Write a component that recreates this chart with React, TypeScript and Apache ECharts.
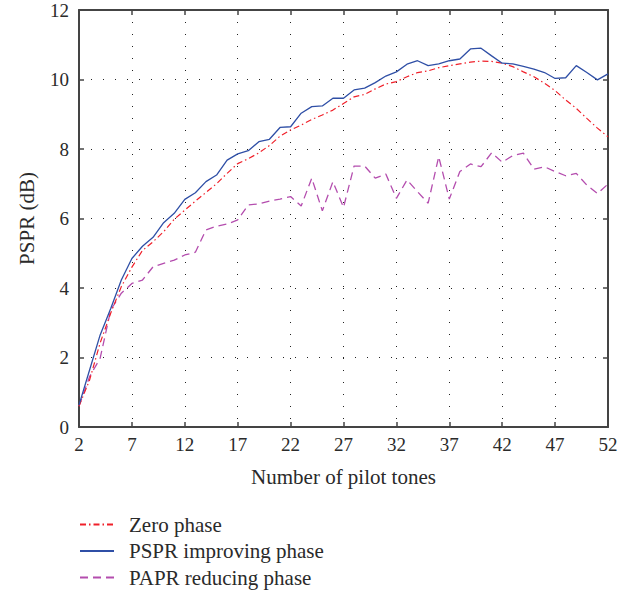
import React, { useEffect, useRef } from "react";
import * as echarts from "echarts";

const pilotTones: number[] = Array.from({ length: 51 }, (_, i) => i + 2);

const zeroPhase: number[] = [
  0.6, 1.35, 2.42, 3.28, 4.04, 4.6, 5.08, 5.33, 5.62, 5.98,
  6.24, 6.5, 6.75, 7.0, 7.3, 7.58, 7.72, 7.89, 8.1, 8.37,
  8.55, 8.69, 8.85, 8.98, 9.12, 9.31, 9.5, 9.57, 9.73, 9.87,
  9.94, 10.08, 10.2, 10.25, 10.34, 10.4, 10.45, 10.5, 10.53, 10.52,
  10.47, 10.37, 10.22, 10.08, 9.89, 9.68, 9.41, 9.17, 8.88, 8.6,
  8.35,
];

const psprImproving: number[] = [
  0.63, 1.64, 2.65, 3.41, 4.23, 4.85, 5.2, 5.46, 5.88, 6.15,
  6.55, 6.74, 7.06, 7.25, 7.68, 7.86, 7.95, 8.21, 8.28, 8.62,
  8.64, 9.03, 9.22, 9.24, 9.46, 9.46, 9.7, 9.75, 9.91, 10.1,
  10.22, 10.44, 10.54, 10.4, 10.45, 10.54, 10.59, 10.88, 10.9, 10.68,
  10.47, 10.45, 10.38, 10.3, 10.2, 10.03, 10.05, 10.4, 10.2, 9.99,
  10.16,
];

const paprReducing: number[] = [
  0.6, 1.45, 1.98, 3.37, 3.85, 4.13, 4.23, 4.61, 4.71, 4.8,
  4.95, 5.03, 5.67, 5.78, 5.84, 5.96, 6.39, 6.42, 6.5, 6.56,
  6.63, 6.36, 7.16, 6.22, 7.06, 6.32, 7.51, 7.51, 7.16, 7.28,
  6.58, 7.11, 6.77, 6.44, 7.78, 6.56, 7.35, 7.57, 7.49, 7.89,
  7.62, 7.81, 7.88, 7.42, 7.49, 7.35, 7.23, 7.3, 6.96, 6.72,
  6.99,
];

const seriesNames = ["Zero phase", "PSPR improving phase", "PAPR reducing phase"];
const xAxisTitle = "Number of pilot tones";
const yAxisTitle = "PSPR (dB)";

const FONT = "Liberation Serif";
const TEXT = "#2a2a2a";
const FRAME = "#444";

export default function App() {
  const ref = useRef<HTMLDivElement>(null);

  useEffect(() => {
    if (!ref.current) return;
    const chart = echarts.init(ref.current, undefined, { renderer: "svg" });
    const pair = (vals: number[]) => pilotTones.map((x, i) => [x, vals[i]]);
    const gridLine = {
      show: true,
      lineStyle: { color: "#222", width: 1, type: [1, 11] as any },
    };
    const frameLine = { show: true, onZero: false, lineStyle: { color: FRAME, width: 2 } };
    const tick = { show: true, inside: true, length: 5, lineStyle: { color: FRAME, width: 1.5 } };
    chart.setOption({
      animation: false,
      textStyle: { fontFamily: FONT },
      grid: { left: 79, right: 27, top: 10, bottom: 167, containLabel: false },
      legend: {
        orient: "vertical",
        left: 79,
        top: 514,
        padding: 0,
        itemWidth: 34,
        itemHeight: 14,
        itemGap: 5.5,
        itemStyle: { opacity: 0 },
        textStyle: {
          fontFamily: FONT,
          fontSize: 21,
          lineHeight: 21,
          color: TEXT,
          padding: [0, 0, 0, 10],
        },
        data: seriesNames,
      },
      xAxis: [
        {
          type: "value",
          min: 2,
          max: 52,
          interval: 5,
          name: xAxisTitle,
          nameLocation: "middle",
          nameGap: 39,
          nameTextStyle: { fontFamily: FONT, fontSize: 21, color: TEXT },
          axisLine: frameLine,
          axisTick: tick,
          axisLabel: { fontFamily: FONT, fontSize: 19, color: TEXT, margin: 8 },
          splitLine: gridLine,
        },
        {
          type: "value",
          position: "top",
          min: 2,
          max: 52,
          interval: 5,
          axisLine: frameLine,
          axisTick: tick,
          axisLabel: { show: false },
          splitLine: { show: false },
        },
      ],
      yAxis: [
        {
          type: "value",
          min: 0,
          max: 12,
          interval: 2,
          name: yAxisTitle,
          nameLocation: "middle",
          nameGap: 42,
          nameTextStyle: { fontFamily: FONT, fontSize: 21, color: TEXT },
          axisLine: frameLine,
          axisTick: tick,
          axisLabel: { fontFamily: FONT, fontSize: 19, color: TEXT, margin: 10 },
          splitLine: gridLine,
        },
        {
          type: "value",
          position: "right",
          min: 0,
          max: 12,
          interval: 2,
          axisLine: frameLine,
          axisTick: tick,
          axisLabel: { show: false },
          splitLine: { show: false },
        },
      ],
      series: [
        {
          name: seriesNames[0],
          type: "line",
          data: pair(zeroPhase),
          symbol: "none",
          lineStyle: { color: "#f0202a", width: 1.2, type: [6, 3, 1.5, 3] },
          itemStyle: { color: "#f0202a" },
          z: 3,
        },
        {
          name: seriesNames[1],
          type: "line",
          data: pair(psprImproving),
          symbol: "none",
          lineStyle: { color: "#2f4fa6", width: 1.3, type: "solid" },
          itemStyle: { color: "#2f4fa6" },
          z: 4,
        },
        {
          name: seriesNames[2],
          type: "line",
          data: pair(paprReducing),
          symbol: "none",
          lineStyle: { color: "#b44dae", width: 1.3, type: [8, 5] },
          itemStyle: { color: "#b44dae" },
          z: 2,
        },
      ],
    });
    return () => chart.dispose();
  }, []);

  return <div ref={ref} style={{ width: 635, height: 594, position: "absolute", left: 0, top: 0 }} />;
}
